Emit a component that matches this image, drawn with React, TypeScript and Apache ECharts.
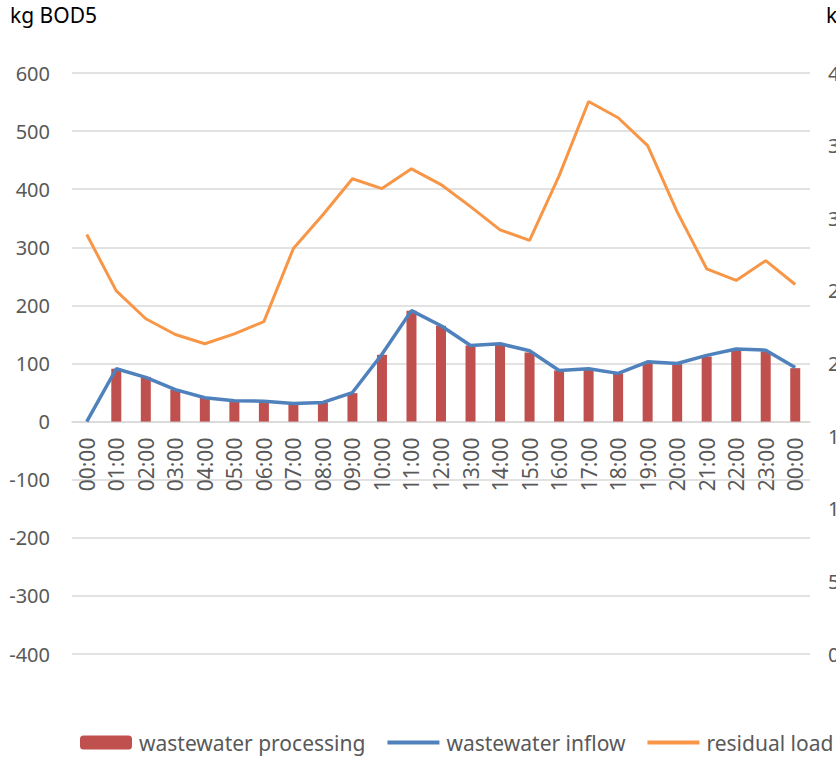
import React, { useEffect, useRef } from "react";
import * as echarts from "echarts";

const categories = [
  "00:00", "01:00", "02:00", "03:00", "04:00", "05:00", "06:00", "07:00", "08:00",
  "09:00", "10:00", "11:00", "12:00", "13:00", "14:00", "15:00", "16:00", "17:00",
  "18:00", "19:00", "20:00", "21:00", "22:00", "23:00", "00:00",
];

const processing = [
  0, 91, 77, 55, 41, 36, 35, 31, 33, 49, 115, 191, 165, 131, 134, 119, 88, 90, 83,
  102, 99, 112, 124, 121, 92,
];

const inflow = [
  0, 91, 76, 55, 41, 36, 35, 31, 33, 50, 116, 191, 165, 131, 134, 122, 88, 91, 83,
  103, 100, 114, 125, 123, 93,
];

const residual = [
  322, 225, 177, 150, 134, 151, 172, 298, 356, 418, 401, 435, 408, 370, 330, 312,
  423, 551, 523, 475, 361, 263, 243, 277, 236,
];

const FONT = "'Noto Sans', sans-serif";
const GREY = "#595959";
const RED = "#C0504D";
const BLUE = "#4F81BD";
const ORANGE = "#F79646";

const GRID_TOP = 73;
const GRID_BOTTOM = 104;
const CHART_H = 758;
const Y_MIN = -400;
const Y_MAX = 600;
// distance from the bottom of the grid up to the zero line
const zeroOffset =
  ((CHART_H - GRID_TOP - GRID_BOTTOM) * (0 - Y_MIN)) / (Y_MAX - Y_MIN);

export default function App() {
  const ref = useRef<HTMLDivElement>(null);
  useEffect(() => {
    if (!ref.current) return;
    const chart = echarts.init(ref.current, undefined, { renderer: "svg" });
    chart.setOption({
      animation: false,
      backgroundColor: "#ffffff",
      textStyle: { fontFamily: FONT },
      grid: {
        left: 72,
        right: 26,
        top: GRID_TOP,
        bottom: GRID_BOTTOM,
        containLabel: false,
        outerBoundsMode: "none",
      },
      graphic: [
        {
          type: "text",
          left: 10,
          top: 4,
          style: { text: "kg BOD5", fontSize: 21, fontFamily: FONT, fill: "#000000" },
        },
        {
          type: "text",
          left: 826,
          top: 4,
          style: { text: "kg BOD5", fontSize: 21, fontFamily: FONT, fill: "#000000" },
        },
      ],
      legend: {
        left: 80,
        top: 732,
        width: 900,
        padding: 0,
        itemWidth: 52,
        itemHeight: 14,
        itemGap: 20,
        textStyle: { fontSize: 21, color: GREY, fontFamily: FONT, padding: [0, 0, 0, 2] },
        data: [
          { name: "wastewater processing" },
          {
            name: "wastewater inflow",
            itemStyle: { opacity: 0 },
            lineStyle: { color: BLUE, width: 4 },
          },
          {
            name: "residual load",
            itemStyle: { opacity: 0 },
            lineStyle: { color: ORANGE, width: 4 },
          },
        ],
      },
      xAxis: {
        type: "category",
        data: categories,
        boundaryGap: true,
        position: "bottom",
        offset: -zeroOffset,
        axisLine: {
          onZero: false,
          lineStyle: { color: "#D9D9D9", width: 1.5 },
        },
        axisTick: { show: false },
        axisLabel: {
          rotate: 90,
          interval: 0,
          margin: 16,
          fontSize: 21,
          color: GREY,
          fontFamily: FONT,
        },
      },
      yAxis: [
        {
          type: "value",
          min: Y_MIN,
          max: Y_MAX,
          interval: 100,
          axisLine: { show: false },
          axisTick: { show: false },
          splitLine: { lineStyle: { color: "#D9D9D9", width: 1.5 } },
          axisLabel: { fontSize: 20, color: GREY, margin: 22, fontFamily: FONT },
        },
        {
          type: "value",
          min: 0,
          max: 400,
          interval: 50,
          position: "right",
          axisLine: { show: false },
          axisTick: { show: false },
          splitLine: { show: false },
          axisLabel: { fontSize: 20, color: GREY, margin: 18, fontFamily: FONT },
        },
      ],
      series: [
        {
          name: "wastewater processing",
          type: "bar",
          data: processing,
          barWidth: 10,
          itemStyle: { color: RED },
          z: 1,
        },
        {
          name: "wastewater inflow",
          type: "line",
          data: inflow,
          symbol: "none",
          lineStyle: { color: BLUE, width: 3.5 },
          itemStyle: { color: BLUE },
          z: 3,
        },
        {
          name: "residual load",
          type: "line",
          data: residual,
          symbol: "none",
          lineStyle: { color: ORANGE, width: 3 },
          itemStyle: { color: ORANGE },
          z: 2,
        },
      ],
    });
    return () => chart.dispose();
  }, []);
  return (
    <div
      ref={ref}
      style={{ position: "fixed", left: 0, top: 0, width: 836, height: 758 }}
    />
  );
}
